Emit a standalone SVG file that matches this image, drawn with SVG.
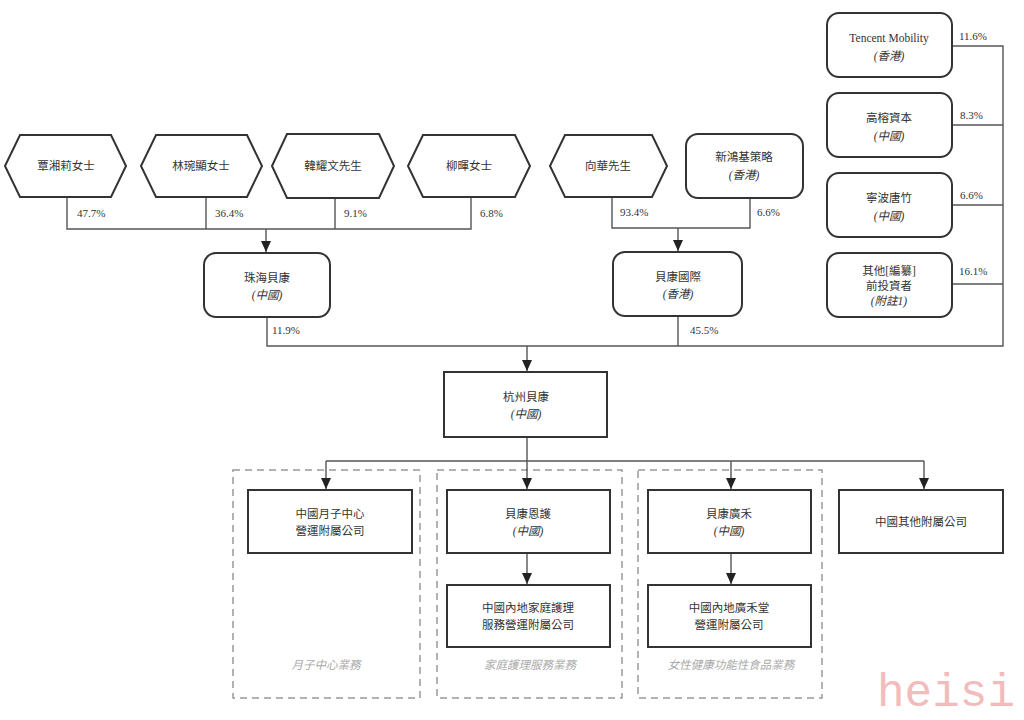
<svg xmlns="http://www.w3.org/2000/svg" width="1024" height="720" viewBox="0 0 1024 720">
<defs>
<marker id="arr" markerWidth="11" markerHeight="10" refX="11" refY="5" orient="auto" markerUnits="userSpaceOnUse" viewBox="0 0 11 10">
<path d="M0,0 L11,5 L0,10 Z" fill="#222"/>
</marker>
</defs>
<style>
.node{fill:#fff;stroke:#333;stroke-width:2}
.t{font-family:"Liberation Serif","Noto Sans CJK TC",serif;font-size:11.5px;fill:#333;text-anchor:middle}
.i{font-style:italic}
.p{font-family:"Liberation Serif","Noto Sans CJK TC",serif;font-size:11px;fill:#333}
.c{fill:none;stroke:#555;stroke-width:1.4}
.grp{fill:none;stroke:#999;stroke-width:1.5;stroke-dasharray:7,5}
.g{font-family:"Liberation Serif","Noto Sans CJK TC",serif;font-size:11.5px;fill:#aaa;text-anchor:middle;font-style:italic}
</style>
<rect width="1024" height="720" fill="#fff"/>

<g id="groups">
<rect class="grp" x="233" y="470" width="187" height="228"/>
<rect class="grp" x="437" y="470" width="185" height="228"/>
<rect class="grp" x="638" y="470" width="184" height="228"/>
<text class="g" x="326" y="669">月子中心業務</text>
<text class="g" x="530" y="669">家庭護理服務業務</text>
<text class="g" x="731" y="669">女性健康功能性食品業務</text>
</g>

<g id="connectors">
<path class="c" d="M67,197 V229 H471 V197 M206,197 V229 M335,197 V229"/>
<path class="c" d="M266,229 V252" marker-end="url(#arr)"/>
<path class="c" d="M612,197 V228 H750 V198"/>
<path class="c" d="M678,228 V251" marker-end="url(#arr)"/>
<path class="c" d="M952,46 H1003 V346 H267 V317 M678,316 V346 M952,125 H1003 M952,205 H1003 M952,284 H1003"/>
<path class="c" d="M527,346 V371" marker-end="url(#arr)"/>
<path class="c" d="M527,437 V461 H924 M326,461 H527"/>
<path class="c" d="M326,461 V489" marker-end="url(#arr)"/>
<path class="c" d="M527,461 V489" marker-end="url(#arr)"/>
<path class="c" d="M731,461 V489" marker-end="url(#arr)"/>
<path class="c" d="M924,461 V489" marker-end="url(#arr)"/>
<path class="c" d="M527,553 V584" marker-end="url(#arr)"/>
<path class="c" d="M731,553 V584" marker-end="url(#arr)"/>
<text class="p" x="77" y="217">47.7%</text>
<text class="p" x="215" y="217">36.4%</text>
<text class="p" x="344" y="217">9.1%</text>
<text class="p" x="480" y="217">6.8%</text>
<text class="p" x="620" y="216">93.4%</text>
<text class="p" x="757" y="216">6.6%</text>
<text class="p" x="272" y="334">11.9%</text>
<text class="p" x="690" y="334">45.5%</text>
<text class="p" x="959" y="40">11.6%</text>
<text class="p" x="960" y="119">8.3%</text>
<text class="p" x="960" y="199">6.6%</text>
<text class="p" x="959" y="275">16.1%</text>
</g>

<g id="n1"><polygon class="node" points="5,166 20,135 111,135 126,166 111,197 20,197"/><text class="t" x="66" y="170">覃湘莉女士</text></g>
<g id="n2"><polygon class="node" points="141,166 156,135 247,135 262,166 247,197 156,197"/><text class="t" x="201" y="170">林琬顯女士</text></g>
<g id="n3"><polygon class="node" points="272,166 287,134 379,134 394,166 379,198 287,198"/><text class="t" x="333" y="170">韓耀文先生</text></g>
<g id="n4"><polygon class="node" points="408,166 423,135 515,135 530,166 515,197 423,197"/><text class="t" x="469" y="170">柳暉女士</text></g>
<g id="n5"><polygon class="node" points="550,166 565,135 652,135 667,166 652,197 565,197"/><text class="t" x="608" y="170">向華先生</text></g>
<g id="n6"><rect class="node" x="686" y="134" width="117" height="64" rx="12"/><text class="t" x="744" y="161">新鴻基策略</text><text class="t i" x="744" y="179">(香港)</text></g>

<g id="n7"><rect class="node" x="827" y="13" width="125" height="64" rx="12"/><text class="t" x="889" y="42">Tencent Mobility</text><text class="t i" x="889" y="60">(香港)</text></g>
<g id="n8"><rect class="node" x="827" y="93" width="125" height="64" rx="12"/><text class="t" x="889" y="122">高榕資本</text><text class="t i" x="889" y="140">(中國)</text></g>
<g id="n9"><rect class="node" x="827" y="173" width="125" height="64" rx="12"/><text class="t" x="889" y="202">寧波唐竹</text><text class="t i" x="889" y="220">(中國)</text></g>
<g id="n10"><rect class="node" x="827" y="253" width="125" height="64" rx="12"/><text class="t" x="889" y="275">其他[編纂]</text><text class="t" x="889" y="290">前投資者</text><text class="t i" x="889" y="305">(附註1)</text></g>

<g id="n11"><rect class="node" x="204" y="253" width="126" height="64" rx="12"/><text class="t" x="267" y="282">珠海貝康</text><text class="t i" x="267" y="299">(中國)</text></g>
<g id="n12"><rect class="node" x="613" y="252" width="129" height="64" rx="12"/><text class="t" x="678" y="281">貝康國際</text><text class="t i" x="678" y="298">(香港)</text></g>
<g id="n13"><rect class="node" x="444" y="372" width="163" height="65"/><text class="t" x="526" y="401">杭州貝康</text><text class="t i" x="526" y="418">(中國)</text></g>

<g id="n14"><rect class="node" x="248" y="490" width="164" height="63"/><text class="t" x="330" y="518">中國月子中心</text><text class="t" x="330" y="535">營運附屬公司</text></g>
<g id="n15"><rect class="node" x="447" y="490" width="163" height="63"/><text class="t" x="528" y="518">貝康恩護</text><text class="t i" x="528" y="535">(中國)</text></g>
<g id="n16"><rect class="node" x="447" y="585" width="163" height="62"/><text class="t" x="528" y="612">中國內地家庭護理</text><text class="t" x="528" y="629">服務營運附屬公司</text></g>
<g id="n17"><rect class="node" x="648" y="490" width="163" height="63"/><text class="t" x="729" y="518">貝康廣禾</text><text class="t i" x="729" y="535">(中國)</text></g>
<g id="n18"><rect class="node" x="648" y="585" width="163" height="62"/><text class="t" x="729" y="612">中國內地廣禾堂</text><text class="t" x="729" y="629">營運附屬公司</text></g>
<g id="n19"><rect class="node" x="839" y="490" width="164" height="63"/><text class="t" x="921" y="526">中國其他附屬公司</text></g>

<text x="877" y="706" font-family="Liberation Mono,monospace" font-size="46" fill="#f2bcbc">heisi</text>
</svg>
